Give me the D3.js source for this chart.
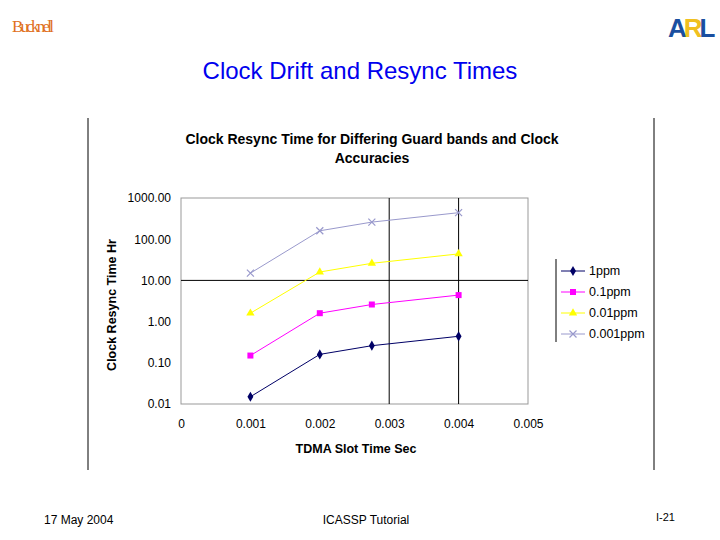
<!DOCTYPE html>
<html><head><meta charset="utf-8">
<script src="https://cdn.jsdelivr.net/npm/d3@7"></script>
<style>body{margin:0;background:#fff}</style>
</head><body>
<script>
const xVals = [0.001, 0.002, 0.00275, 0.004]
const seriesNames = ['1ppm', '0.1ppm', '0.01ppm', '0.001ppm']
const s1ppm = [0.015, 0.16, 0.26, 0.44]
const s01ppm = [0.15, 1.6, 2.6, 4.4]
const s001ppm = [1.6, 16, 26, 44]
const s0001ppm = [15, 160, 260, 440]
const yTicks = [0.01, 0.1, 1, 10, 100, 1000]
const xTicks = [0, 0.001, 0.002, 0.003, 0.004, 0.005]
const colors = ['#000066', '#ff00ff', '#ffff00', '#9999cc']

const svg = d3.select('body').append('svg').attr('width', 720).attr('height', 540)
  .style('font-family', 'Arial, "Liberation Sans", sans-serif')

// slide decorations
svg.append('text').attr('x', 12).attr('y', 32).attr('fill', '#e07020')
  .style('font-family', '"Liberation Serif", serif').attr('font-size', 17).attr('textLength', 42).text('Bucknell')
const arl = svg.append('text').attr('x', 668).attr('y', 37).attr('font-weight', 'bold').attr('font-size', 26).attr('letter-spacing', -3)
arl.append('tspan').attr('fill', '#1a4fa0').text('A')
arl.append('tspan').attr('fill', '#f0c020').text('R')
arl.append('tspan').attr('fill', '#1a4fa0').text('L')
svg.append('text').attr('x', 360).attr('y', 79).attr('text-anchor', 'middle').attr('fill', '#0000ee')
  .attr('font-size', 24).text('Clock Drift and Resync Times')
svg.append('text').attr('x', 44).attr('y', 524).attr('font-size', 12).text('17 May 2004')
svg.append('text').attr('x', 366).attr('y', 524).attr('text-anchor', 'middle').attr('font-size', 12).text('ICASSP Tutorial')
svg.append('text').attr('x', 656).attr('y', 521).attr('font-size', 11).text('I-21')
svg.append('line').attr('x1', 88).attr('x2', 88).attr('y1', 118).attr('y2', 470).attr('stroke', '#000')
svg.append('line').attr('x1', 654).attr('x2', 654).attr('y1', 118).attr('y2', 470).attr('stroke', '#000')

// chart
const x = d3.scaleLinear().domain([0, 0.005]).range([181, 528])
const y = d3.scaleLog().domain([0.01, 1000]).range([404, 198])

svg.append('text').attr('x', 372).attr('y', 144).attr('text-anchor', 'middle').attr('font-weight', 'bold').attr('font-size', 14).text('Clock Resync Time for Differing Guard bands and Clock')
svg.append('text').attr('x', 372).attr('y', 163).attr('text-anchor', 'middle').attr('font-weight', 'bold').attr('font-size', 14).text('Accuracies')

svg.append('rect').attr('x', 181).attr('y', 198).attr('width', 347).attr('height', 206).attr('fill', 'none').attr('stroke', '#999')
svg.append('line').attr('x1', 181).attr('x2', 528).attr('y1', y(10)).attr('y2', y(10)).attr('stroke', '#000')
;[0.003, 0.004].forEach(v => svg.append('line').attr('x1', x(v)).attr('x2', x(v)).attr('y1', 198).attr('y2', 404).attr('stroke', '#000'))

const yAxis = svg.append('g').attr('transform', 'translate(181,0)')
  .call(d3.axisLeft(y).tickValues(yTicks).tickFormat(d3.format('.2f')).tickSize(0).tickPadding(10))
yAxis.select('.domain').remove()
yAxis.selectAll('text').attr('font-size', 12).style('font-family', 'Arial, "Liberation Sans", sans-serif')
const xAxis = svg.append('g').attr('transform', 'translate(0,404)')
  .call(d3.axisBottom(x).tickValues(xTicks).tickFormat(d => d === 0 ? '0' : d3.format('.3f')(d)).tickSize(0).tickPadding(15))
xAxis.select('.domain').remove()
xAxis.selectAll('text').attr('font-size', 12).style('font-family', 'Arial, "Liberation Sans", sans-serif')

svg.append('text').attr('x', 356).attr('y', 453).attr('text-anchor', 'middle').attr('font-weight', 'bold').attr('font-size', 12.5).text('TDMA Slot Time Sec')
svg.append('text').attr('transform', 'translate(116,305) rotate(-90)').attr('text-anchor', 'middle').attr('font-weight', 'bold').attr('font-size', 12.5).text('Clock Resync Time Hr')

const allSeries = [s1ppm, s01ppm, s001ppm, s0001ppm]
const line = d3.line().x((d, i) => x(xVals[i])).y(d => y(d))
const symbols = [d3.symbolDiamond, d3.symbolSquare, d3.symbolTriangle, d3.symbolCross]
function marker(g, k, cx, cy) {
  if (k === 3) {
    g.append('path').attr('d', `M${cx-3.5},${cy-3.5}L${cx+3.5},${cy+3.5}M${cx-3.5},${cy+3.5}L${cx+3.5},${cy-3.5}`).attr('stroke', colors[k]).attr('stroke-width', 1.2)
  } else {
    g.append('path').attr('d', d3.symbol().type(symbols[k]).size(k === 1 ? 36 : 30)()).attr('transform', `translate(${cx},${cy})`).attr('fill', colors[k])
  }
}
allSeries.forEach((s, k) => {
  const g = svg.append('g')
  g.append('path').datum(s).attr('d', line).attr('fill', 'none').attr('stroke', colors[k]).attr('stroke-width', 1)
  s.forEach((v, i) => marker(g, k, x(xVals[i]), y(v)))
})

// legend
svg.append('line').attr('x1', 556).attr('x2', 556).attr('y1', 259).attr('y2', 342).attr('stroke', '#000')
seriesNames.forEach((n, k) => {
  const ly = 271 + k * 21
  svg.append('line').attr('x1', 561).attr('x2', 585).attr('y1', ly).attr('y2', ly).attr('stroke', colors[k])
  marker(svg, k, 573, ly)
  svg.append('text').attr('x', 589).attr('y', ly + 4).attr('font-size', 12.5).text(n)
})
</script>
</body></html>
